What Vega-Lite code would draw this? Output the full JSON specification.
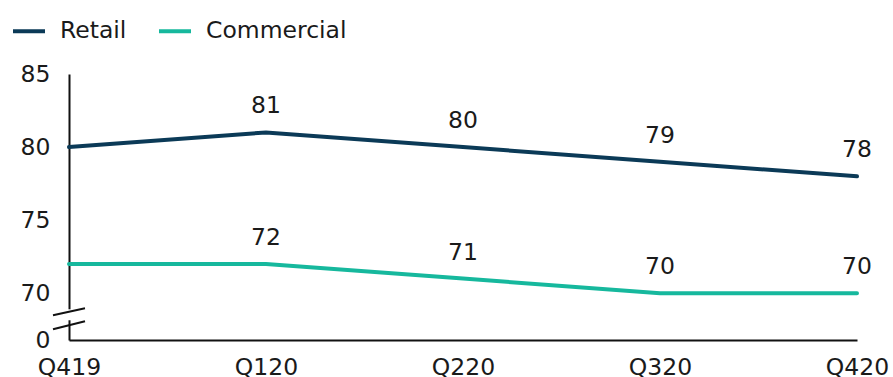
{
  "$schema": "https://vega.github.io/schema/vega-lite/v6.json",
  "width": 788,
  "height": 266,
  "autosize": {"type": "none"},
  "padding": {"left": 69, "top": 74, "right": 36, "bottom": 37},
  "background": "#ffffff",
  "config": {
    "view": {"stroke": null},
    "font": "DejaVu Sans",
    "axis": {
      "domainColor": "#111111",
      "domainWidth": 2,
      "ticks": false,
      "grid": false,
      "labelFont": "DejaVu Sans",
      "labelFontSize": 23.5,
      "labelColor": "#1a1a1a",
      "title": null
    }
  },
  "data": {
    "values": [
      {"quarter": "Q419", "series": "Retail", "value": 80},
      {"quarter": "Q120", "series": "Retail", "value": 81},
      {"quarter": "Q220", "series": "Retail", "value": 80},
      {"quarter": "Q320", "series": "Retail", "value": 79},
      {"quarter": "Q420", "series": "Retail", "value": 78},
      {"quarter": "Q419", "series": "Commercial", "value": 72},
      {"quarter": "Q120", "series": "Commercial", "value": 72},
      {"quarter": "Q220", "series": "Commercial", "value": 71},
      {"quarter": "Q320", "series": "Commercial", "value": 70},
      {"quarter": "Q420", "series": "Commercial", "value": 70}
    ]
  },
  "encoding": {
    "x": {
      "field": "quarter",
      "type": "ordinal",
      "sort": ["Q419", "Q120", "Q220", "Q320", "Q420"],
      "scale": {"type": "point", "padding": 0},
      "axis": {"labelAngle": 0, "labelPadding": 15, "labelBaseline": "top"}
    },
    "y": {
      "field": "value",
      "type": "quantitative",
      "scale": {"domain": [66.8, 85], "nice": false, "zero": false},
      "axis": {
        "values": [66.8, 70, 75, 80, 85],
        "labelExpr": "datum.value < 67 ? '0' : datum.label",
        "labelPadding": 19
      }
    }
  },
  "layer": [
    {
      "mark": {"type": "line", "strokeWidth": 4, "strokeCap": "round"},
      "encoding": {
        "color": {
          "field": "series",
          "type": "nominal",
          "scale": {"domain": ["Retail", "Commercial"], "range": ["#0b3a57", "#16b89d"]},
          "legend": {
            "title": null,
            "orient": "none",
            "legendX": -58,
            "legendY": -61,
            "direction": "horizontal",
            "symbolType": "stroke",
            "symbolSize": 1024,
            "symbolStrokeWidth": 4,
            "labelFontSize": 23.5,
            "labelFont": "DejaVu Sans",
            "labelColor": "#1a1a1a",
            "labelOffset": 13,
            "columnPadding": 24,
            "padding": 0
          }
        }
      }
    },
    {
      "transform": [{"filter": "datum.quarter != 'Q419'"}],
      "mark": {"type": "text", "fontSize": 23.5, "color": "#1a1a1a", "baseline": "middle", "dy": -26},
      "encoding": {"text": {"field": "value", "type": "quantitative"}}
    },
    {
      "data": {"values": [{"quarter": "Q419", "lo": 68.15, "hi": 68.9}]},
      "mark": {"type": "rule", "color": "#ffffff", "strokeWidth": 6},
      "encoding": {
        "x": {"field": "quarter", "type": "ordinal"},
        "y": {"field": "lo", "type": "quantitative"},
        "y2": {"field": "hi"}
      }
    },
    {
      "data": {"values": [
        {"quarter": "Q419", "lo": 68.5, "hi": 68.97},
        {"quarter": "Q419", "lo": 67.53, "hi": 68.08}
      ]},
      "mark": {"type": "rule", "color": "#111111", "strokeWidth": 2, "xOffset": -16, "x2Offset": 16},
      "encoding": {
        "x": {"field": "quarter", "type": "ordinal"},
        "x2": {"field": "quarter"},
        "y": {"field": "lo", "type": "quantitative"},
        "y2": {"field": "hi"}
      }
    }
  ]
}
